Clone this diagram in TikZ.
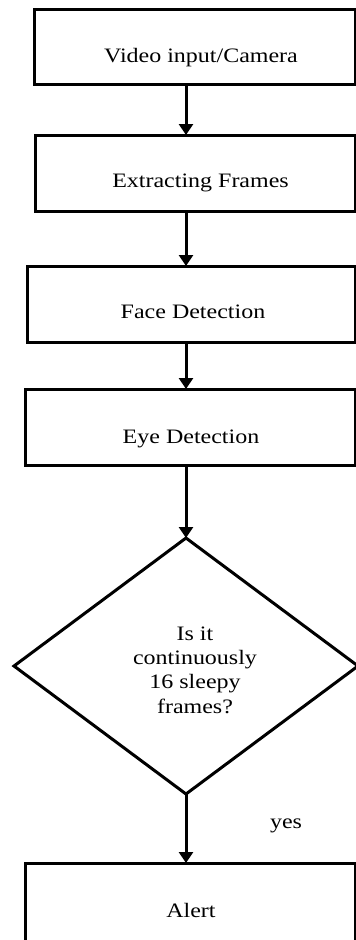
\documentclass[tikz,border=0pt]{standalone}
\usepackage{fontspec}
\setmainfont[FakeStretch=1.17]{Liberation Serif}
\usetikzlibrary{arrows.meta,shapes.geometric}

\begin{document}
\begin{tikzpicture}[x=1pt,y=-1pt,
  box/.style={draw, line width=3pt, inner sep=0pt, outer sep=0pt},
  decision/.style={draw, diamond, line width=3pt, inner sep=0pt, outer sep=0pt},
  lbl/.style={font=\fontsize{20.5}{24.3}\selectfont, inner sep=0pt},
  flow/.style={line width=3pt, -{Triangle[width=14pt,length=11pt]}}]
\useasboundingbox (0,0) rectangle (356,940);
\clip (0,0) rectangle (356,940);

% process boxes
\node[box, minimum width=321pt, minimum height=75pt] (cam) at (194.5,46.5) {};
\node[box, minimum width=320pt, minimum height=76pt] (frames) at (195,173) {};
\node[box, minimum width=328pt, minimum height=76pt] (face) at (191,304) {};
\node[box, minimum width=330pt, minimum height=76pt] (eye) at (190,427) {};
\node[decision, minimum width=344pt, minimum height=256pt] (dec) at (186,666) {};
\node[box, minimum width=330pt, minimum height=90pt] (alert) at (190,908) {};

% labels
\node[lbl, anchor=base] (tcam) at (201,62) {Video input/Camera};
\node[lbl, anchor=base] (tframes) at (200.5,187) {Extracting Frames};
\node[lbl, anchor=base] (tface) at (193,318) {Face Detection};
\node[lbl, anchor=base] (teye) at (191,443) {Eye Detection};
\node[lbl, align=center] (tdec) at (195,670) {Is it\\continuously\\16 sleepy\\frames?};
\node[lbl, anchor=base] (talert) at (191,917) {Alert};
\node[lbl, anchor=base] (tyes) at (286,828) {yes};

% connectors
\draw[flow] (cam.south -| dec.north) -- (frames.north -| dec.north);
\draw[flow] (frames.south -| dec.north) -- (face.north -| dec.north);
\draw[flow] (face.south -| dec.north) -- (eye.north -| dec.north);
\draw[flow] (eye.south -| dec.north) -- (dec.north);
\draw[flow] (dec.south) -- (alert.north -| dec.south);
\end{tikzpicture}
\end{document}
